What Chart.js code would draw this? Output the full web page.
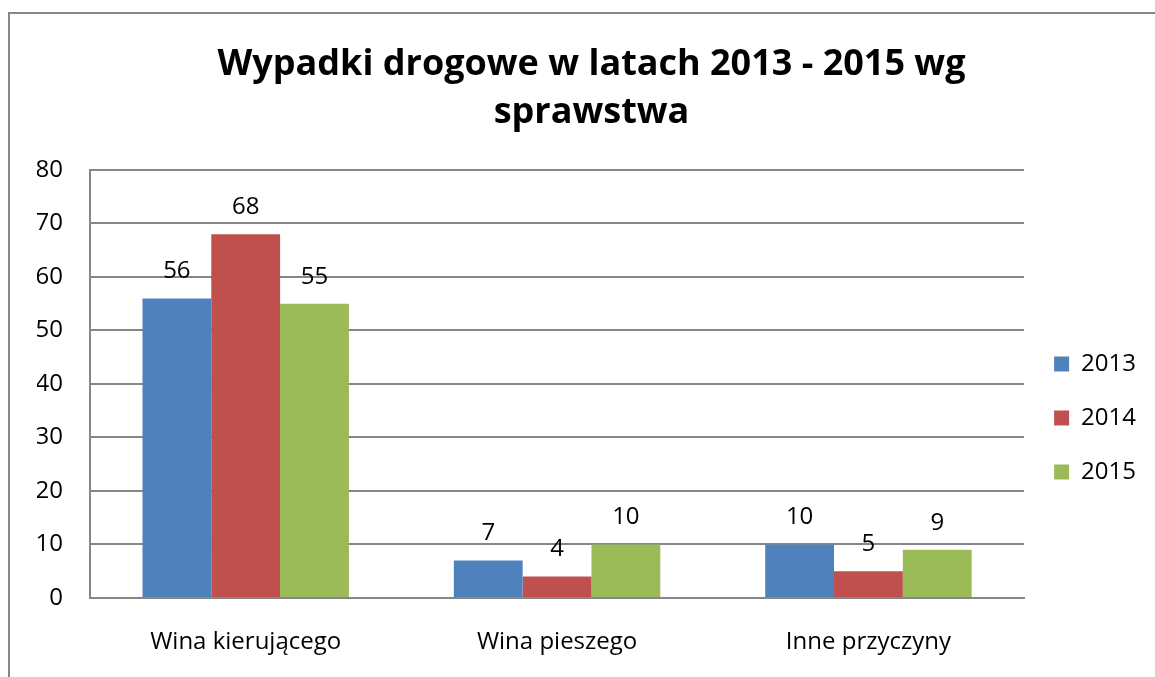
<!DOCTYPE html>
<html>
<head>
<meta charset="utf-8">
<script src="https://cdn.jsdelivr.net/npm/chart.js@4/dist/chart.umd.min.js"></script>
<style>
  body { margin: 0; background: #fff; }
  #box { width: 1155px; height: 677px; position: relative; }
</style>
</head>
<body>
<div id="box"><canvas id="wypadki-chart"></canvas></div>
<script>
// Dane z wykresu
const kategorie = ['Wina kierującego', 'Wina pieszego', 'Inne przyczyny'];
const lata = ['2013', '2014', '2015'];
const wartosci2013 = [56, 7, 10];
const wartosci2014 = [68, 4, 5];
const wartosci2015 = [55, 10, 9];
const tytul = ['Wypadki drogowe w latach 2013 - 2015 wg', 'sprawstwa'];

const FONT = "'Open Sans', sans-serif";
const SZARY = '#868686';

// Ramka i tło całego obszaru
const ramkaPlugin = {
    id: 'ramka',
    beforeDraw(chart) {
        const ctx = chart.ctx;
        ctx.save();
        ctx.fillStyle = '#fff';
        ctx.fillRect(0, 0, chart.width, chart.height);
        ctx.strokeStyle = SZARY;
        ctx.lineWidth = 2;
        ctx.strokeRect(9, 13, chart.width + 20, chart.height + 20);
        ctx.restore();
    }
};

// Etykiety wartości nad słupkami
const etykietyPlugin = {
    id: 'etykiety',
    afterDatasetsDraw(chart) {
        const ctx = chart.ctx;
        ctx.save();
        ctx.fillStyle = '#000';
        ctx.font = '24px ' + FONT;
        ctx.textAlign = 'center';
        ctx.textBaseline = 'middle';
        chart.data.datasets.forEach((ds, i) => {
            chart.getDatasetMeta(i).data.forEach((bar, j) => {
                ctx.fillText(ds.data[j], bar.x, bar.y - 27);
            });
        });
        ctx.restore();
    }
};

function generateWypadkiChart() {
    const dane = {
        labels: kategorie,
        datasets: [
            { label: lata[0], data: wartosci2013, backgroundColor: '#4F81BD' },
            { label: lata[1], data: wartosci2014, backgroundColor: '#C0504D' },
            { label: lata[2], data: wartosci2015, backgroundColor: '#9BBB59' }
        ]
    };

    const config = {
        type: 'bar',
        data: dane,
        options: {
            responsive: true,
            maintainAspectRatio: false,
            animation: false,
            categoryPercentage: 0.663,
            barPercentage: 1,
            layout: { padding: { left: 37, right: 9, top: 0, bottom: 9 } },
            plugins: {
                title: {
                    display: true,
                    text: tytul,
                    color: '#000',
                    font: { family: FONT, size: 36, weight: 'bold', lineHeight: 1.333 },
                    padding: { top: 41, bottom: 33 }
                },
                legend: {
                    position: 'right',
                    fullSize: false,
                    // pusty tytuł legendy przesuwa pozycje w dół
                    title: { display: true, text: '', font: { size: 10, lineHeight: 1 }, padding: { top: 0, bottom: 58 } },
                    labels: { boxWidth: 15, boxHeight: 15, padding: 30, color: '#000', font: { family: FONT, size: 24 } }
                },
                tooltip: { enabled: false }
            },
            scales: {
                x: {
                    grid: { display: false },
                    border: { display: true, color: SZARY, width: 2 },
                    ticks: { color: '#000', padding: 22, maxRotation: 0, font: { family: FONT, size: 24 } },
                    afterFit(scale) {
                        scale.height = 70;
                        scale.paddingLeft = 0;
                        scale.paddingRight = 0;
                    }
                },
                y: {
                    min: 0,
                    max: 80,
                    ticks: { stepSize: 10, color: '#000', padding: 27, font: { family: FONT, size: 24 } },
                    grid: { color: SZARY, lineWidth: 2, drawTicks: false },
                    border: { display: true, color: SZARY, width: 2 },
                    afterFit(scale) {
                        scale.width = 53;
                    }
                }
            }
        },
        plugins: [ramkaPlugin, etykietyPlugin]
    };

    new Chart(document.getElementById('wypadki-chart'), config);
}

generateWypadkiChart();
</script>
</body>
</html>
